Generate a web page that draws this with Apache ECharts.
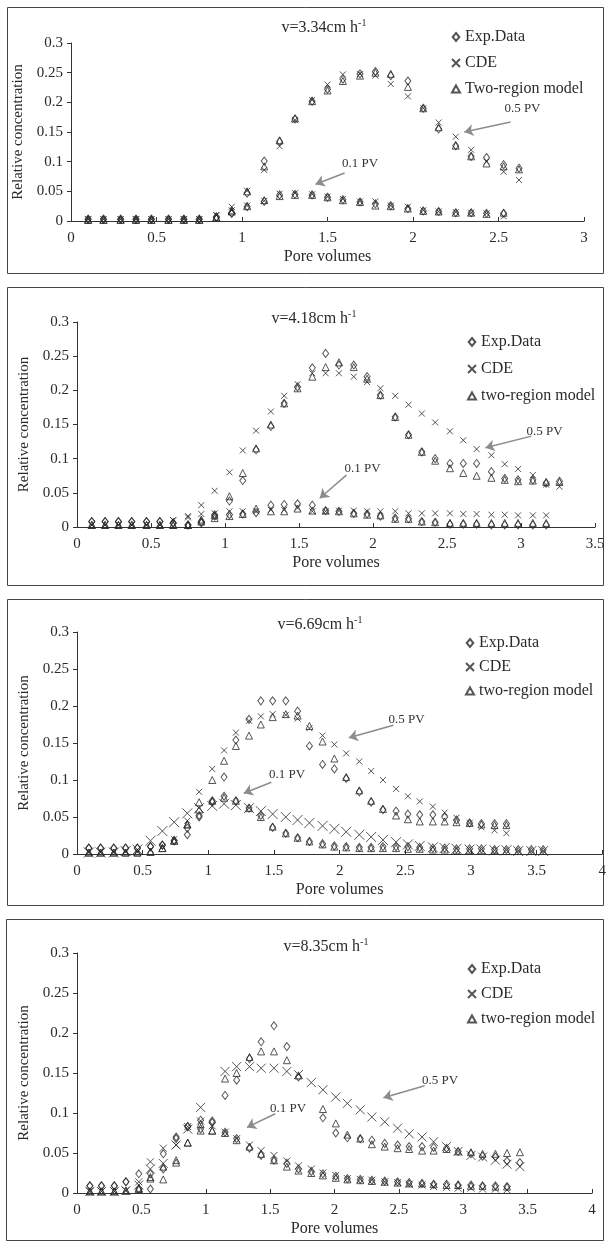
<!DOCTYPE html>
<html>
<head>
<meta charset="utf-8">
<title>Breakthrough curves</title>
<script src="https://cdn.jsdelivr.net/npm/echarts/dist/echarts.min.js"></script>
</head>
<body style="margin:0;background:#fff">
<div id="main" style="width:609px;height:1247px"></div>
<script>
// pore volumes (x) for each panel
const PV1 = [0.10,0.19,0.29,0.38,0.47,0.57,0.66,0.75,0.85,0.94,1.03,1.13,1.22,1.31,1.41,1.50,1.59,1.69,1.78,1.87,1.97,2.06,2.15,2.25,2.34,2.43,2.53,2.62];
const PV2 = [0.10,0.19,0.28,0.37,0.47,0.56,0.65,0.75,0.84,0.93,1.03,1.12,1.21,1.31,1.40,1.49,1.59,1.68,1.77,1.87,1.96,2.05,2.15,2.24,2.33,2.42,2.52,2.61,2.70,2.80,2.89,2.98,3.08,3.17,3.26];
const PV3 = [0.09,0.18,0.28,0.37,0.46,0.56,0.65,0.74,0.84,0.93,1.03,1.12,1.21,1.31,1.40,1.49,1.59,1.68,1.77,1.87,1.96,2.05,2.15,2.24,2.33,2.43,2.52,2.61,2.71,2.80,2.89,2.99,3.08,3.18,3.27,3.36,3.46,3.55];
const PV4 = [0.10,0.19,0.29,0.38,0.48,0.57,0.67,0.77,0.86,0.96,1.05,1.15,1.24,1.34,1.43,1.53,1.63,1.72,1.82,1.91,2.01,2.10,2.20,2.29,2.39,2.49,2.58,2.68,2.77,2.87,2.96,3.06,3.15,3.25,3.34,3.44];

const TITLES = ['3.34', '4.18', '6.69', '8.35'];
const X_MAX = [3, 3.5, 4, 4];

// v=3.34, 0.5 PV pulse
const P1_HI_EXP = [0.003,0.003,0.003,0.003,0.003,0.003,0.003,0.003,0.007,0.013,0.047,0.101,0.134,0.172,0.202,0.222,0.239,0.248,0.252,0.245,0.236,0.190,0.155,0.127,0.109,0.107,0.095,0.089];
const P1_HI_CDE = [0.003,0.003,0.003,0.003,0.003,0.003,0.003,0.003,0.010,0.024,0.051,0.086,0.126,0.170,0.204,0.230,0.247,0.248,0.245,0.231,0.210,0.190,0.166,0.142,0.120,0.100,0.083,0.069];
const P1_HI_TR  = [0.002,0.002,0.002,0.002,0.002,0.002,0.002,0.002,0.006,0.016,0.050,0.092,0.136,0.173,0.202,0.220,0.236,0.245,0.250,0.248,0.226,0.190,0.158,0.127,0.109,0.097,0.092,0.087];
// v=3.34, 0.1 PV pulse
const P1_LO_EXP = [0.003,0.003,0.003,0.003,0.003,0.003,0.003,0.003,0.006,0.013,0.024,0.033,0.044,0.045,0.044,0.040,0.036,0.032,0.029,0.026,0.021,0.017,0.016,0.014,0.014,0.013,0.013];
const P1_LO_CDE = [0.003,0.003,0.003,0.003,0.003,0.003,0.003,0.003,0.010,0.018,0.026,0.034,0.046,0.047,0.045,0.041,0.037,0.033,0.033,0.026,0.024,0.018,0.016,0.015,0.014,0.013,0.008];
const P1_LO_TR  = [0.002,0.002,0.002,0.002,0.002,0.002,0.002,0.002,0.006,0.018,0.025,0.035,0.042,0.044,0.044,0.040,0.035,0.032,0.026,0.025,0.021,0.017,0.016,0.014,0.014,0.012,0.014];

// v=4.18
const P2_HI_EXP = [0.008,0.008,0.008,0.008,0.008,0.008,0.006,0.003,0.008,0.018,0.038,0.068,0.113,0.147,0.181,0.205,0.233,0.254,0.237,0.237,0.220,0.193,0.161,0.135,0.110,0.100,0.093,0.093,0.093,0.081,0.071,0.069,0.069,0.064,0.067];
const P2_HI_CDE = [0.003,0.003,0.003,0.003,0.003,0.003,0.010,0.016,0.032,0.053,0.080,0.112,0.141,0.169,0.192,0.209,0.225,0.225,0.225,0.220,0.212,0.203,0.192,0.179,0.166,0.153,0.140,0.127,0.114,0.105,0.092,0.085,0.076,0.062,0.059];
const P2_HI_TR  = [0.003,0.003,0.003,0.003,0.003,0.003,0.003,0.003,0.008,0.017,0.045,0.079,0.115,0.150,0.181,0.203,0.220,0.234,0.241,0.234,0.217,0.193,0.161,0.135,0.110,0.097,0.086,0.079,0.075,0.072,0.069,0.067,0.068,0.066,0.066];
const P2_LO_EXP = [0.008,0.008,0.008,0.008,0.008,0.008,0.006,0.003,0.006,0.016,0.018,0.019,0.021,0.032,0.033,0.034,0.032,0.024,0.023,0.020,0.019,0.016,0.013,0.012,0.008,0.007,0.004,0.004,0.004,0.003,0.003,0.003,0.003,0.003];
const P2_LO_CDE = [0.003,0.003,0.003,0.003,0.003,0.003,0.010,0.014,0.019,0.020,0.023,0.023,0.023,0.025,0.025,0.028,0.023,0.023,0.024,0.024,0.023,0.023,0.023,0.020,0.020,0.020,0.020,0.019,0.019,0.018,0.018,0.017,0.017,0.017];
const P2_LO_TR  = [0.003,0.003,0.003,0.003,0.003,0.003,0.003,0.003,0.011,0.013,0.016,0.019,0.027,0.023,0.023,0.027,0.024,0.024,0.023,0.020,0.018,0.017,0.012,0.012,0.008,0.007,0.006,0.006,0.006,0.006,0.006,0.006,0.006,0.006];

// v=6.69
const P3_HI_EXP = [0.008,0.008,0.008,0.008,0.008,0.010,0.012,0.018,0.026,0.052,0.072,0.104,0.154,0.182,0.207,0.207,0.207,0.193,0.146,0.121,0.115,0.102,0.084,0.070,0.060,0.058,0.054,0.053,0.053,0.050,0.046,0.042,0.041,0.041,0.041];
const P3_HI_CDE = [0.003,0.003,0.003,0.003,0.003,0.006,0.010,0.020,0.045,0.084,0.115,0.140,0.164,0.180,0.186,0.189,0.188,0.183,0.170,0.160,0.148,0.136,0.125,0.112,0.100,0.088,0.078,0.071,0.064,0.056,0.049,0.042,0.036,0.032,0.028];
const P3_HI_TR  = [0.002,0.002,0.002,0.002,0.002,0.003,0.008,0.018,0.040,0.070,0.100,0.126,0.146,0.160,0.175,0.185,0.189,0.187,0.173,0.152,0.129,0.104,0.086,0.072,0.061,0.052,0.047,0.044,0.044,0.044,0.043,0.042,0.040,0.039,0.039];
const P3_LO_EXP = [0.008,0.008,0.008,0.008,0.008,0.010,0.012,0.018,0.035,0.050,0.070,0.078,0.072,0.062,0.052,0.036,0.028,0.022,0.017,0.014,0.011,0.010,0.009,0.009,0.010,0.010,0.010,0.009,0.008,0.008,0.007,0.007,0.007,0.006,0.006,0.006,0.006,0.006];
const P3_LO_CDE = [0.002,0.002,0.002,0.004,0.006,0.018,0.031,0.043,0.055,0.062,0.065,0.068,0.066,0.062,0.058,0.054,0.050,0.046,0.042,0.038,0.034,0.030,0.026,0.023,0.019,0.016,0.013,0.011,0.009,0.008,0.007,0.006,0.006,0.005,0.005,0.004,0.004,0.004];
const P3_LO_TR  = [0.002,0.002,0.002,0.002,0.002,0.003,0.008,0.018,0.040,0.060,0.072,0.076,0.072,0.062,0.050,0.037,0.028,0.022,0.017,0.013,0.010,0.009,0.008,0.008,0.008,0.008,0.007,0.007,0.006,0.006,0.005,0.005,0.005,0.005,0.004,0.004,0.004,0.004];

// v=8.35
const P4_HI_EXP = [0.009,0.009,0.009,0.014,0.005,0.005,0.030,0.068,0.083,0.080,0.090,0.122,0.141,0.168,0.189,0.209,0.183,0.145,null,0.094,0.075,0.069,0.068,0.066,0.062,0.060,0.058,0.058,0.057,0.056,0.052,0.049,0.046,0.045,0.040,0.038];
const P4_HI_CDE = [0.002,0.002,0.002,0.003,0.010,0.030,0.037,0.060,0.080,0.107,null,0.152,0.158,0.158,0.156,0.156,0.152,0.148,0.138,0.129,0.120,0.112,0.104,0.095,0.089,0.081,0.074,0.070,0.064,0.058,0.052,0.047,0.045,0.041,0.036,0.033];
const P4_HI_TR  = [0.002,0.002,0.002,0.003,0.006,0.018,0.017,0.038,0.063,0.086,0.078,0.143,0.150,0.170,0.177,0.177,0.166,0.147,null,0.105,0.087,0.073,0.068,0.061,0.058,0.056,0.055,0.053,0.053,0.055,0.052,0.051,0.049,0.049,0.050,0.051];
const P4_LO_EXP = [0.009,0.009,0.009,0.014,0.024,0.024,0.049,0.070,0.083,0.091,0.088,0.076,0.068,0.056,0.047,0.041,0.037,0.030,0.027,0.024,0.021,0.018,0.017,0.016,0.015,0.014,0.013,0.012,0.011,0.011,0.010,0.010,0.009,0.009,0.008,null];
const P4_LO_CDE = [0.002,0.002,0.002,0.003,0.014,0.039,0.056,0.060,0.083,0.090,0.084,0.076,0.068,0.060,0.053,0.047,0.040,0.034,0.030,0.025,0.022,0.018,0.017,0.016,0.014,0.013,0.011,0.010,0.008,0.007,0.006,0.006,0.005,0.005,0.004,null];
const P4_LO_TR  = [0.002,0.002,0.002,0.003,0.005,0.020,0.033,0.041,0.063,0.078,0.078,0.075,0.066,0.058,0.049,0.041,0.033,0.028,0.025,0.022,0.019,0.017,0.016,0.015,0.014,0.013,0.012,0.012,0.011,0.010,0.010,0.009,0.009,0.008,0.008,null];

const SERIF = '"Liberation Serif", "DejaVu Serif", serif';
const INK = '#2a2a2a';

const SYM_DIAMOND = 'path://M5,0L10,6L5,12L0,6Z';
const SYM_TRI = 'path://M5,0L10,9L0,9Z';
const SYM_X = 'path://M0,0L10,10M10,0L0,10';

// panel frames and plot areas, in px
const BOXES = [[7, 7, 596, 266], [7, 287, 596, 298], [7, 599, 596, 306], [6, 919, 597, 321]];
const GRIDS = [
    {left: 71, top: 43, width: 513, height: 178},
    {left: 77, top: 322, width: 518, height: 205},
    {left: 77, top: 632, width: 526, height: 222},
    {left: 77, top: 953, width: 515, height: 240},
];
const TITLE_POS = [[319, 13], [309, 304], [315, 610], [321, 932]];
const LEGEND_POS = [[446, 24], [462, 329], [460, 630], [462, 956]];
const LEGEND_GAP = [10, 11, 8, 9];

// arrow annotations, in data units: [text, textX, textY, fromX, fromY, toX, toY]
const NOTES = [
    [['0.5 PV', 2.64, 0.189, 2.57, 0.167, 2.30, 0.150], ['0.1 PV', 1.69, 0.096, 1.60, 0.081, 1.43, 0.062]],
    [['0.5 PV', 3.16, 0.140, 3.07, 0.133, 2.76, 0.116], ['0.1 PV', 1.93, 0.086, 1.82, 0.076, 1.64, 0.042]],
    [['0.5 PV', 2.51, 0.182, 2.41, 0.174, 2.07, 0.157], ['0.1 PV', 1.60, 0.108, 1.48, 0.097, 1.27, 0.082]],
    [['0.5 PV', 2.82, 0.141, 2.70, 0.134, 2.38, 0.119], ['0.1 PV', 1.64, 0.106, 1.54, 0.099, 1.32, 0.082]],
];

const PANELS = [
    {pv: PV1, trName: 'Two-region model', hi: [P1_HI_EXP, P1_HI_CDE, P1_HI_TR], lo: [P1_LO_EXP, P1_LO_CDE, P1_LO_TR], xHi: 6, xLo: 6},
    {pv: PV2, trName: 'two-region model', hi: [P2_HI_EXP, P2_HI_CDE, P2_HI_TR], lo: [P2_LO_EXP, P2_LO_CDE, P2_LO_TR], xHi: 6, xLo: 6},
    {pv: PV3, trName: 'two-region model', hi: [P3_HI_EXP, P3_HI_CDE, P3_HI_TR], lo: [P3_LO_EXP, P3_LO_CDE, P3_LO_TR], xHi: 6, xLo: 10},
    {pv: PV4, trName: 'two-region model', hi: [P4_HI_EXP, P4_HI_CDE, P4_HI_TR], lo: [P4_LO_EXP, P4_LO_CDE, P4_LO_TR], xHi: 9, xLo: 7},
];

function pts(xs, ys) {
    const out = [];
    ys.forEach((v, i) => {
        if (v !== null) out.push([xs[i], v]);
    });
    return out;
}

function markerStyle() {
    return {color: 'rgba(0,0,0,0)', borderColor: INK, borderWidth: 1};
}

const grids = [], xAxes = [], yAxes = [], titles = [], legends = [], series = [], graphics = [];

BOXES.forEach(b => {
    graphics.push({
        type: 'rect', silent: true,
        shape: {x: b[0] + 0.5, y: b[1] + 0.5, width: b[2], height: b[3]},
        style: {fill: 'none', stroke: '#444', lineWidth: 1}
    });
});

PANELS.forEach((p, k) => {
    grids.push(GRIDS[k]);
    xAxes.push({
        type: 'value', gridIndex: k, min: 0, max: X_MAX[k], interval: 0.5,
        name: 'Pore volumes', nameLocation: 'middle', nameGap: 28,
        nameTextStyle: {fontFamily: SERIF, fontSize: 16, color: INK},
        axisLine: {show: true, lineStyle: {color: '#333', width: 1}},
        axisTick: {show: true, inside: true, length: 4, lineStyle: {color: '#333'}},
        axisLabel: {fontFamily: SERIF, fontSize: 15, color: INK, margin: 10},
        splitLine: {show: false}
    });
    yAxes.push({
        type: 'value', gridIndex: k, min: 0, max: 0.3, interval: 0.05,
        name: 'Relative concentration', nameLocation: 'middle', nameGap: 44, nameRotate: 90,
        nameTextStyle: {fontFamily: SERIF, fontSize: 15, color: INK},
        axisLine: {show: true, lineStyle: {color: '#333', width: 1}},
        axisTick: {show: true, length: 4, lineStyle: {color: '#333'}},
        axisLabel: {fontFamily: SERIF, fontSize: 15, color: INK, margin: 8},
        splitLine: {show: false}
    });
    titles.push({
        text: '{a|v=' + TITLES[k] + 'cm h}{b|-1}',
        left: TITLE_POS[k][0], top: TITLE_POS[k][1], textAlign: 'center',
        textStyle: {
            fontWeight: 'normal',
            rich: {
                a: {fontFamily: SERIF, fontSize: 16, fontWeight: 'normal', color: INK, lineHeight: 19},
                b: {fontFamily: SERIF, fontSize: 10, fontWeight: 'normal', color: INK, verticalAlign: 'top', lineHeight: 10}
            }
        }
    });
    legends.push({
        data: ['Exp.Data', 'CDE', p.trName],
        orient: 'vertical', left: LEGEND_POS[k][0], top: LEGEND_POS[k][1],
        itemWidth: 8, itemHeight: 8, itemGap: LEGEND_GAP[k],
        textStyle: {fontFamily: SERIF, fontSize: 16, color: INK}
    });

    const names = ['Exp.Data', 'CDE', p.trName];
    const syms = [SYM_DIAMOND, SYM_X, SYM_TRI];
    [['hi', p.xHi], ['lo', p.xLo]].forEach(([key, xs], j) => {
        p[key].forEach((ys, m) => {
            const s = {
                name: names[m], type: 'scatter', xAxisIndex: k, yAxisIndex: k,
                symbol: syms[m],
                symbolSize: m === 0 ? [6, 8] : (m === 1 ? xs : [7, 7]),
                itemStyle: markerStyle(),
                data: pts(p.pv, ys)
            };
            if (j === 1 && m === 0) {
                s.markLine = {
                    silent: true, symbol: ['none', 'arrow'], symbolSize: 9,
                    lineStyle: {color: '#8c8c8c', width: 1.5, type: 'solid'},
                    label: {show: false},
                    data: NOTES[k].map(n => [{coord: [n[3], n[4]]}, {coord: [n[5], n[6]]}])
                };
                s.markPoint = {
                    silent: true, symbol: 'circle', symbolSize: 1,
                    itemStyle: {color: 'rgba(0,0,0,0)'},
                    label: {show: true, position: 'inside', fontFamily: SERIF, fontSize: 13, color: '#333',
                        formatter: d => d.name},
                    data: NOTES[k].map(n => ({name: n[0], coord: [n[1], n[2]]}))
                };
            }
            series.push(s);
        });
    });
});

const chart = echarts.init(document.getElementById('main'));
chart.setOption({
    animation: false,
    backgroundColor: '#fff',
    graphic: graphics,
    title: titles,
    legend: legends,
    grid: grids,
    xAxis: xAxes,
    yAxis: yAxes,
    series: series
});
</script>
</body>
</html>
